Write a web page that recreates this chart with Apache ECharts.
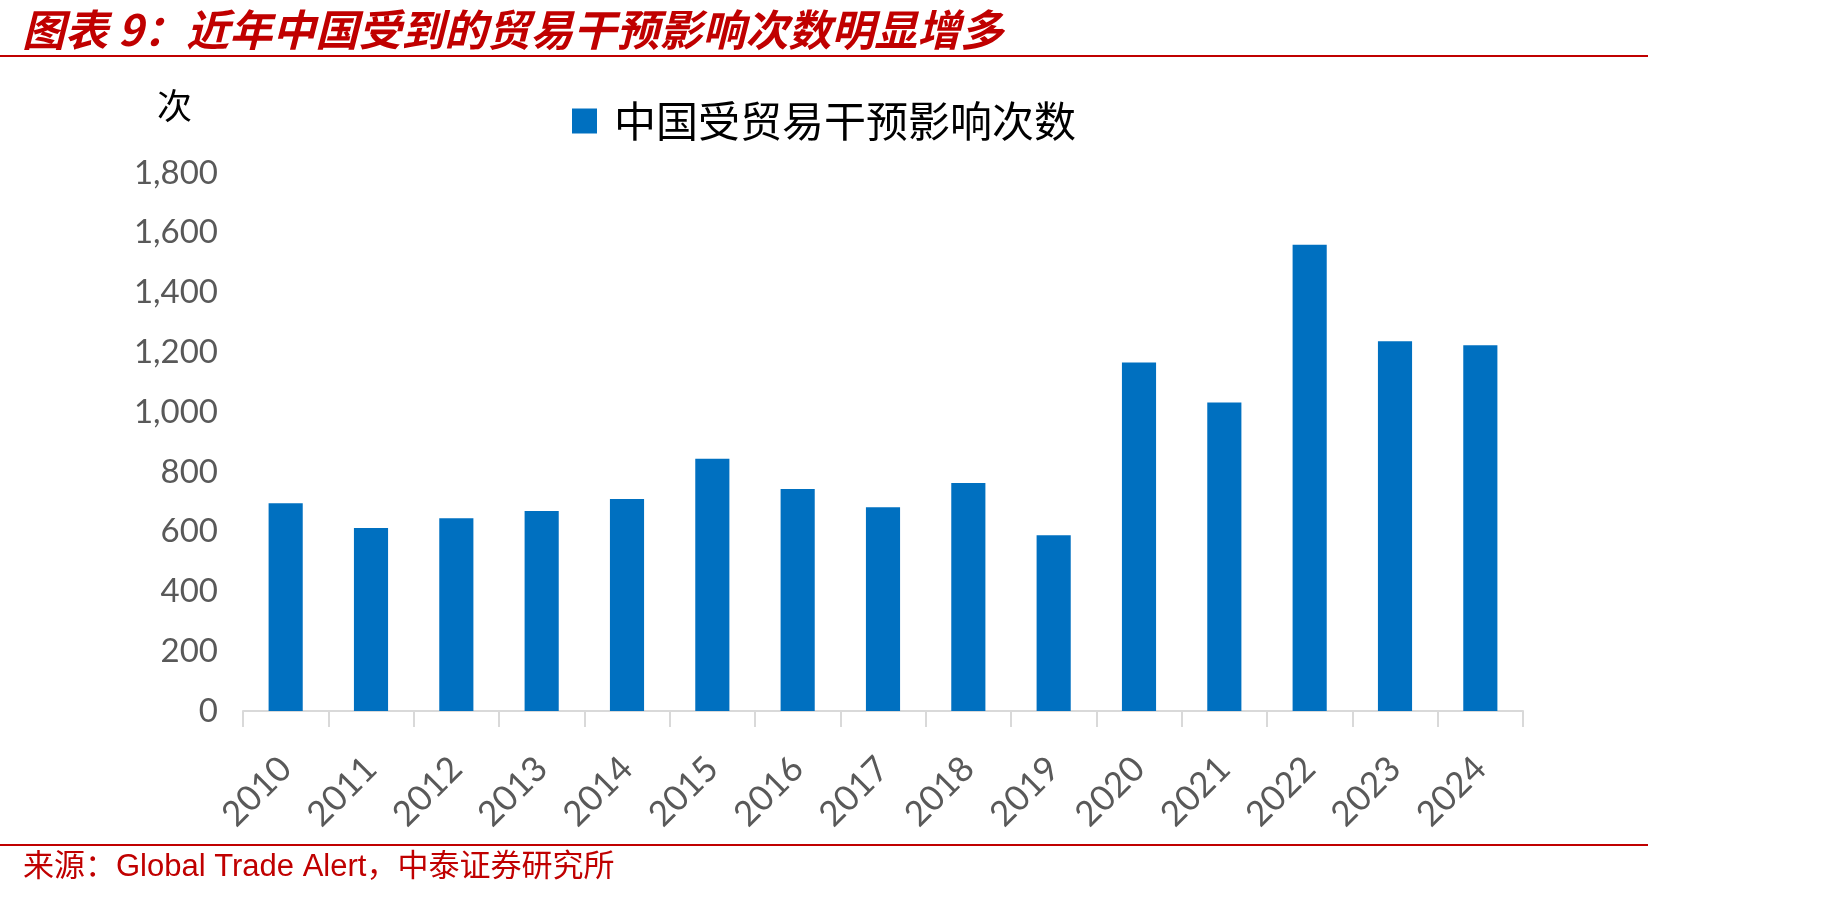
<!DOCTYPE html>
<html>
<head>
<meta charset="utf-8">
<title>近年中国受到的贸易干预影响次数明显增多</title>
<script src="https://cdn.jsdelivr.net/npm/echarts@6/dist/echarts.min.js"></script>
<style>
	html,body{margin:0;padding:0;background:#fff;}
	#chart{width:1830px;height:898px;}
</style>
</head>
<body>
<div id="chart"></div>
<script>
// 图表9 数据（单位：次）
var years = ['2010','2011','2012','2013','2014','2015','2016','2017','2018','2019','2020','2021','2022','2023','2024'];
var counts = [695, 612, 645, 669, 709, 844, 743, 682, 763, 588, 1166, 1032, 1560, 1237, 1224];
var seriesName = '中国受贸易干预影响次数';
var yTicks = {min: 0, max: 1800, step: 200};

var RED = '#c00000';
var BLUE = '#0070c0';
var GRAY_TEXT = '#595959';

function addCommas(v){
	return String(v).replace(/\B(?=(\d{3})+(?!\d))/g, ',');
}

var myChart = echarts.init(document.getElementById('chart'));
myChart.setOption({
	backgroundColor: '#fff',
	animation: false,
	grid: {
		left: 243,
		right: 307,
		top: 173,
		bottom: 187,
		containLabel: false
	},
	legend: {
		left: 567,
		top: 95,
		itemWidth: 25,
		itemHeight: 25,
		icon: 'rect',
		textStyle: {
			fontSize: 42,
			color: '#000',
			fontFamily: 'Noto Sans CJK SC',
			padding: [0, 0, 0, 12]
		},
		data: [seriesName]
	},
	xAxis: {
		type: 'category',
		data: years,
		boundaryGap: true,
		axisLine: {
			show: true,
			lineStyle: {color: '#d9d9d9', width: 2}
		},
		axisTick: {
			show: true,
			length: 16,
			lineStyle: {color: '#d9d9d9', width: 2}
		},
		axisLabel: {
			rotate: 45,
			margin: 52,
			fontSize: 35,
			color: GRAY_TEXT,
			fontFamily: 'Lato'
		}
	},
	yAxis: {
		type: 'value',
		min: yTicks.min,
		max: yTicks.max,
		interval: yTicks.step,
		axisLine: {show: false},
		axisTick: {show: false},
		splitLine: {show: false},
		axisLabel: {
			margin: 25,
			fontSize: 33,
			color: GRAY_TEXT,
			fontFamily: 'Lato',
			formatter: addCommas
		}
	},
	series: [
		{
			name: seriesName,
			type: 'bar',
			data: counts,
			barCategoryGap: '60%',
			itemStyle: {color: BLUE}
		}
	],
	graphic: [
		{
			type: 'text',
			left: 22,
			top: 8,
			style: {
				text: '图表 9：近年中国受到的贸易干预影响次数明显增多',
				font: 'italic bold 43px "Noto Sans CJK SC"',
				fill: RED
			}
		},
		{
			type: 'line',
			shape: {x1: 0, y1: 56, x2: 1648, y2: 56},
			style: {stroke: RED, lineWidth: 2}
		},
		{
			type: 'text',
			left: 157,
			top: 88,
			style: {
				text: '次',
				font: '35px "Noto Sans CJK SC"',
				fill: '#000'
			}
		},
		{
			type: 'line',
			shape: {x1: 0, y1: 845, x2: 1648, y2: 845},
			style: {stroke: RED, lineWidth: 2}
		},
		{
			type: 'text',
			left: 23,
			top: 852,
			style: {
				text: '来源：Global Trade Alert，中泰证券研究所',
				font: '31px "Liberation Sans", "Noto Sans CJK SC"',
				fill: RED
			}
		}
	]
});
</script>
</body>
</html>
